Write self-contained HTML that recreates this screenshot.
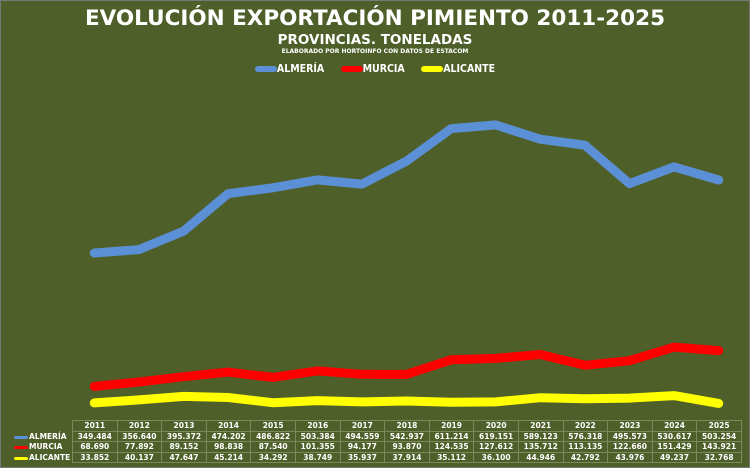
<!DOCTYPE html><html><head><meta charset="utf-8"><style>
body{margin:0;width:750px;height:468px;background:#4f5f29;overflow:hidden;position:relative;font-family:"DejaVu Sans","Liberation Sans",sans-serif;color:#fff}
.t{position:absolute;left:0;width:750px;text-align:center;font-weight:bold;white-space:nowrap}
table{position:absolute;left:72px;top:420px;border-collapse:collapse;font-size:7.5px;font-weight:bold}
td{width:43.6px;height:9.5px;border:1px solid #7a8a5a;text-align:center;padding:0}
.lg{position:absolute;left:14px;font-size:7.5px;font-weight:bold}
.lg i{display:inline-block;width:14px;height:3px;border-radius:2px;vertical-align:middle;margin-right:1px}
</style></head><body>
<div style="position:absolute;left:0;top:0;width:748px;height:466px;border:1px solid #777"></div>
<div class="t" style="top:6px;font-size:21.5px">EVOLUCIÓN EXPORTACIÓN PIMIENTO 2011-2025</div>
<div class="t" style="top:32px;font-size:13.5px">PROVINCIAS. TONELADAS</div>
<div class="t" style="top:48px;font-size:6px">ELABORADO POR HORTOINFO CON DATOS DE ESTACOM</div>
<div class="t" style="top:63px;font-size:10.5px;font-family:'DejaVu Sans Condensed',sans-serif">
<span style="display:inline-block;width:22px;height:6px;border-radius:3px;background:#5b8fd6;vertical-align:middle"></span>ALMERÍA&nbsp;&nbsp;&nbsp;&nbsp;
<span style="display:inline-block;width:22px;height:6px;border-radius:3px;background:#f00;vertical-align:middle"></span>MURCIA&nbsp;&nbsp;&nbsp;&nbsp;
<span style="display:inline-block;width:22px;height:6px;border-radius:3px;background:#ff0;vertical-align:middle"></span>ALICANTE</div>
<svg width="750" height="468" style="position:absolute;left:0;top:0" fill="none" stroke-linejoin="round" stroke-linecap="round" stroke-width="9">
<polyline stroke="#5b8fd6" points="94.3,253 138.9,249.6 183.5,231.2 228.1,193.7 272.7,187.8 317.3,179.9 361.9,184.1 406.5,161.1 451.1,128.7 495.7,124.9 540.3,139.2 584.9,145.2 629.5,183.6 674.1,166.9 718.7,180"/>
<polyline stroke="#f00" points="94.3,386.4 138.9,382 183.5,376.7 228.1,372.1 272.7,377.4 317.3,370.9 361.9,374.3 406.5,374.4 451.1,359.8 495.7,358.4 540.3,354.5 584.9,365.3 629.5,360.7 674.1,347.1 718.7,350.6"/>
<polyline stroke="#ff0" points="94.3,402.9 138.9,399.9 183.5,396.4 228.1,397.5 272.7,402.7 317.3,400.6 361.9,401.9 406.5,401 451.1,402.3 495.7,401.9 540.3,397.7 584.9,398.7 629.5,398.1 674.1,395.6 718.7,403.4"/>
</svg>
<div class="lg" style="top:432px"><i style="background:#5b8fd6"></i>ALMERÍA</div>
<div class="lg" style="top:442px"><i style="background:#f00"></i>MURCIA</div>
<div class="lg" style="top:453px"><i style="background:#ff0"></i>ALICANTE</div>
<table>
<tr><td>2011</td><td>2012</td><td>2013</td><td>2014</td><td>2015</td><td>2016</td><td>2017</td><td>2018</td><td>2019</td><td>2020</td><td>2021</td><td>2022</td><td>2023</td><td>2024</td><td>2025</td></tr>
<tr><td>349.484</td><td>356.640</td><td>395.372</td><td>474.202</td><td>486.822</td><td>503.384</td><td>494.559</td><td>542.937</td><td>611.214</td><td>619.151</td><td>589.123</td><td>576.318</td><td>495.573</td><td>530.617</td><td>503.254</td></tr>
<tr><td>68.690</td><td>77.892</td><td>89.152</td><td>98.838</td><td>87.540</td><td>101.355</td><td>94.177</td><td>93.870</td><td>124.535</td><td>127.612</td><td>135.712</td><td>113.135</td><td>122.660</td><td>151.429</td><td>143.921</td></tr>
<tr><td>33.852</td><td>40.137</td><td>47.647</td><td>45.214</td><td>34.292</td><td>38.749</td><td>35.937</td><td>37.914</td><td>35.112</td><td>36.100</td><td>44.946</td><td>42.792</td><td>43.976</td><td>49.237</td><td>32.768</td></tr>
</table>
</body></html>
